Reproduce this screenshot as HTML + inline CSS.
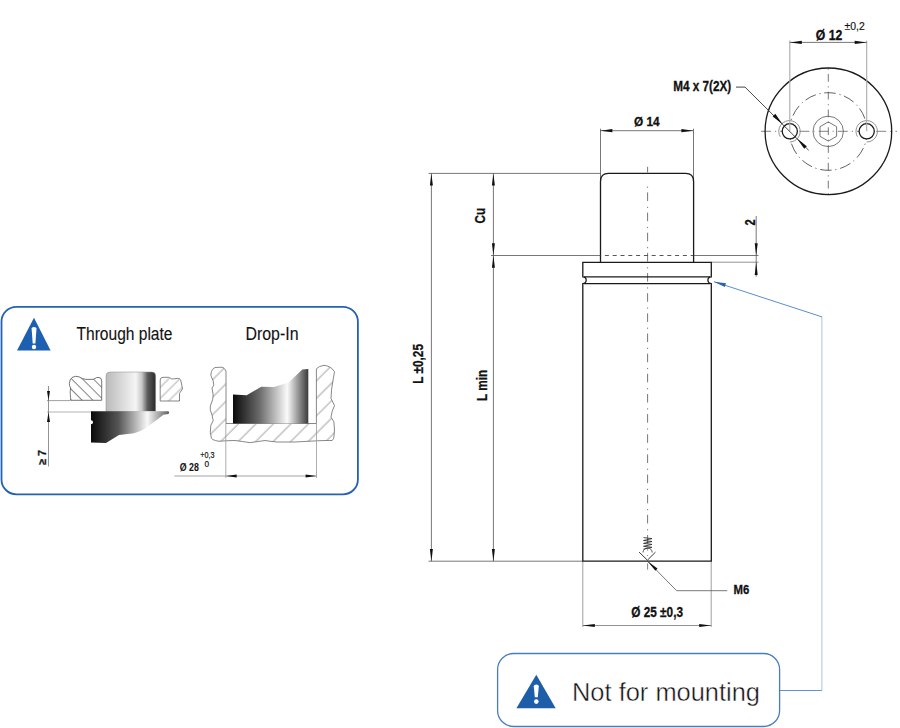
<!DOCTYPE html>
<html><head><meta charset="utf-8">
<style>
html,body{margin:0;padding:0;background:#fff;width:900px;height:728px;overflow:hidden}
svg{display:block}
text{font-family:"Liberation Sans",sans-serif}
.b{font-weight:bold}
</style></head><body>
<svg width="900" height="728" viewBox="0 0 900 728">
<defs>
<linearGradient id="gCyl" x1="0" x2="1" y1="0" y2="0">
<stop offset="0" stop-color="#bababa"/><stop offset="0.6" stop-color="#f5f5f5"/><stop offset="0.72" stop-color="#c8c8c8"/><stop offset="0.84" stop-color="#5a5a5a"/><stop offset="1" stop-color="#2a2a2a"/>
</linearGradient>
<linearGradient id="gFl" x1="0" x2="1" y1="0" y2="0">
<stop offset="0" stop-color="#0a0a0a"/><stop offset="0.35" stop-color="#555"/><stop offset="0.72" stop-color="#f8f8f8"/><stop offset="1" stop-color="#5c5c5c"/>
</linearGradient>
<linearGradient id="gDrop" x1="0" x2="1" y1="0" y2="0">
<stop offset="0" stop-color="#0a0a0a"/><stop offset="0.35" stop-color="#6a6a6a"/><stop offset="0.72" stop-color="#fafafa"/><stop offset="1" stop-color="#3a3a3a"/>
</linearGradient>
<pattern id="hatchL" patternUnits="userSpaceOnUse" width="7.64" height="20" patternTransform="rotate(-45)">
<line x1="4.24" y1="0" x2="4.24" y2="20" stroke="#555" stroke-width="0.75"/>
</pattern>
<pattern id="hatchR" patternUnits="userSpaceOnUse" width="7.8" height="20" patternTransform="rotate(45)">
<line x1="4.97" y1="0" x2="4.97" y2="20" stroke="#888" stroke-width="0.65"/>
</pattern>
<pattern id="hatchD" patternUnits="userSpaceOnUse" width="12.37" height="20" patternTransform="rotate(45)">
<line x1="10.6" y1="0" x2="10.6" y2="20" stroke="#777" stroke-width="0.7"/>
</pattern>
</defs>

<!-- ================= LEFT INFO BOX ================= -->
<rect x="1.5" y="306.8" width="356.4" height="187.6" rx="15" ry="15" fill="#fff" stroke="#2462b4" stroke-width="1.8"/>
<!-- warning triangle -->
<path d="M34 317.7 L50.6 350.4 L17 350.4 Z" fill="#1d5fb0"/>
<path d="M31.6 328.6 Q31.6 327.1 34 327.1 Q36.5 327.1 36.5 328.6 L35.4 343.5 L32.7 343.5 Z" fill="#fff"/>
<circle cx="34" cy="347" r="2.2" fill="#fff"/>
<text x="76.5" y="340.4" font-size="17.5" fill="#111" stroke="#111" stroke-width="0.12" textLength="96" lengthAdjust="spacingAndGlyphs">Through plate</text>
<text x="245.5" y="340.4" font-size="17.5" fill="#111" stroke="#111" stroke-width="0.12" textLength="53" lengthAdjust="spacingAndGlyphs">Drop-In</text>

<!-- through plate: left plate piece -->
<path d="M70.6 400.3 L101.7 400.3 L101.7 381 Q101.7 377.7 99 377.5 Q96.4 377 95 378.5 Q93.5 379.6 91 379.4 L86 379.4 Q82 379 79 376.8 Q75 375.5 72 377.5 Q69.5 379.5 69.3 383.6 Q69.3 386 70.6 388 Q70 392 70.3 394.7 Q70.8 398 70.6 400.3 Z" fill="url(#hatchL)" stroke="#555" stroke-width="0.8"/>
<!-- right plate piece -->
<path d="M160.2 401 L179.5 401 L179.5 393.3 L182.5 388.9 L182 386.1 L180.6 379.8 Q180 378.3 177.3 378.4 L173.5 378.9 Q171.8 379.3 170.5 378.3 Q169.5 377.3 168.5 377.3 L163 377.3 Q160.2 377.5 160.2 380 Z" fill="url(#hatchR)" stroke="#666" stroke-width="0.8"/>
<!-- cylinder -->
<path d="M106 411.5 L106 376 Q106 372 110 372 L152 372 Q155.6 372 155.6 376 L155.6 411.5 Z" fill="url(#gCyl)" stroke="#888" stroke-width="0.5"/>
<!-- flange -->
<path d="M91 411.3 L168.5 411.3 Q170 412.6 168.5 414 L163.5 414.8 L146 428 Q140 432 134 433.3 L119 435 L106 443 L91 442.5 Z" fill="url(#gFl)"/>
<circle cx="91" cy="422.2" r="2" fill="#fff"/>
<!-- dims -->
<line x1="47" y1="400.6" x2="70" y2="400.6" stroke="#888" stroke-width="0.8"/>
<line x1="47" y1="412" x2="91" y2="412" stroke="#aaa" stroke-width="0.9"/>
<line x1="48.5" y1="386" x2="48.5" y2="466.5" stroke="#777" stroke-width="0.8"/>
<path d="M47 391 L50 391 L48.5 400.6 Z" fill="#111"/>
<path d="M47 421.9 L50 421.9 L48.5 412 Z" fill="#111"/>
<text class="b" stroke="#111" stroke-width="0.3" transform="translate(45.8,465) rotate(-90)" font-size="11" fill="#111" textLength="15" lengthAdjust="spacingAndGlyphs">≥ 7</text>

<!-- drop-in U -->
<path d="M215.5 440.5 Q218 441.4 220 441.2 Q228 440.5 235 440.5 Q243 441.5 250 442.7 Q258 441.5 265 440.5 Q271 441.5 277 442 L295 442 Q303 441.5 310 441.2 Q318 440.7 325 440.5 Q331 440.5 332.2 440.5 Q334 438.5 333.9 437 L334.5 430 L333.9 421.8 L331 417.2 L332.2 411.3 L334.5 405.5 L331 398.5 L331.6 389.2 L333.3 378.7 L334.5 371.7 Q331 366 324 365.3 Q319 366 316.4 368.8 L316.4 423.5 L226 423.5 L226 371 Q224 367.3 222 367.2 L215 367.5 Q212 369 211.4 371.7 L210.8 375.2 L213.2 381 L213.8 385.1 L212 388 L213.2 395 L212.6 399.7 L210.3 406.1 L210.3 410.2 L212 414.8 L213.2 420.7 L210.8 425.3 L210.3 432.3 L211.4 438.2 Q212.5 440 215.5 440.5 Z" fill="url(#hatchD)" stroke="#6a6a6a" stroke-width="0.8" stroke-linejoin="round"/>
<path d="M233 423.5 L233 394.5 L246.7 395.3 L261.2 386.7 L274 387 L288.6 382.4 L302.3 369.5 L308.3 369 L308.3 423.5 Z" fill="url(#gDrop)"/>
<line x1="225.8" y1="423.5" x2="225.8" y2="478" stroke="#999" stroke-width="0.8"/>
<line x1="316.5" y1="423.5" x2="316.5" y2="478" stroke="#999" stroke-width="0.8"/>
<line x1="174.4" y1="476" x2="316.5" y2="476" stroke="#999" stroke-width="0.9"/>
<path d="M225.8 476 L236.7 474.4 L236.7 477.6 Z" fill="#111"/>
<path d="M316.5 476 L305.6 474.4 L305.6 477.6 Z" fill="#111"/>
<text class="b" x="179.8" y="470.7" font-size="10.5" fill="#111" textLength="19.1" lengthAdjust="spacingAndGlyphs">Ø 28</text>
<text x="200.2" y="457.8" font-size="8.5" fill="#111" stroke="#111" stroke-width="0.2" textLength="14.2" lengthAdjust="spacingAndGlyphs">+0,3</text>
<text x="204.5" y="466.7" font-size="9" fill="#111" stroke="#111" stroke-width="0.2" textLength="4.6" lengthAdjust="spacingAndGlyphs">0</text>

<!-- ================= MAIN DRAWING ================= -->
<!-- centerline -->
<line x1="647.6" y1="166.8" x2="647.6" y2="172.4" stroke="#666" stroke-width="0.9"/>
<line x1="647.6" y1="186.6" x2="647.6" y2="556" stroke="#666" stroke-width="0.9" stroke-dasharray="1.2 4.65 8.6 5.7"/>
<line x1="647.6" y1="563.4" x2="647.6" y2="569.6" stroke="#777" stroke-width="0.9"/>
<!-- extension lines -->
<line x1="428.5" y1="173.4" x2="600.5" y2="173.4" stroke="#555" stroke-width="0.8"/>
<line x1="491" y1="255.5" x2="600.5" y2="255.5" stroke="#555" stroke-width="0.8"/>
<line x1="693.6" y1="255.5" x2="758.5" y2="255.5" stroke="#555" stroke-width="0.8"/>
<line x1="711.5" y1="262.2" x2="758.5" y2="262.2" stroke="#777" stroke-width="0.8"/>
<line x1="428.5" y1="561.2" x2="582.8" y2="561.2" stroke="#555" stroke-width="0.8"/>
<line x1="600.5" y1="128.7" x2="600.5" y2="182" stroke="#555" stroke-width="0.8"/>
<line x1="693.5" y1="128.7" x2="693.5" y2="182" stroke="#555" stroke-width="0.8"/>
<line x1="582.8" y1="561.2" x2="582.8" y2="627" stroke="#888" stroke-width="0.8"/>
<line x1="711.2" y1="561.2" x2="711.2" y2="627" stroke="#888" stroke-width="0.8"/>
<!-- dim lines -->
<line x1="431.4" y1="173.4" x2="431.4" y2="561.2" stroke="#555" stroke-width="0.8"/>
<path d="M431.4 173.4 L429.9 185.5 L432.9 185.5 Z" fill="#111"/>
<path d="M431.4 561.2 L429.9 549 L432.9 549 Z" fill="#111"/>
<line x1="493.4" y1="173.4" x2="493.4" y2="561.2" stroke="#555" stroke-width="0.8"/>
<path d="M493.4 173.4 L491.9 185.5 L494.9 185.5 Z" fill="#111"/>
<path d="M493.4 255.5 L491.9 243.3 L494.9 243.3 Z" fill="#111"/>
<path d="M493.4 255.5 L491.9 267.7 L494.9 267.7 Z" fill="#111"/>
<path d="M493.4 561.2 L491.9 549 L494.9 549 Z" fill="#111"/>
<line x1="600.4" y1="130.7" x2="693.4" y2="130.7" stroke="#555" stroke-width="0.8"/>
<path d="M600.4 130.7 L612.4 129.1 L612.4 132.3 Z" fill="#111"/>
<path d="M693.4 130.7 L681.4 129.1 L681.4 132.3 Z" fill="#111"/>
<line x1="756.2" y1="216" x2="756.2" y2="276.7" stroke="#555" stroke-width="0.8"/>
<path d="M756.2 255.6 L754.7 243.3 L757.7 243.3 Z" fill="#111"/>
<path d="M756.2 262 L754.7 274.9 L757.7 274.9 Z" fill="#111"/>
<line x1="582.8" y1="625.5" x2="711.2" y2="625.5" stroke="#777" stroke-width="0.8"/>
<path d="M582.8 625.5 L594.8 623.9 L594.8 627.1 Z" fill="#111"/>
<path d="M711.2 625.5 L699.2 623.9 L699.2 627.1 Z" fill="#111"/>

<!-- part outline -->
<path d="M600.5 262.4 L600.5 181.5 Q600.5 173.4 608.5 173.4 L685.6 173.4 Q693.6 173.4 693.6 181.5 L693.6 262.4" fill="none" stroke="#1a1a1a" stroke-width="1.3"/>
<line x1="600.5" y1="255.5" x2="693.6" y2="255.5" stroke="#444" stroke-width="0.9" stroke-dasharray="4 3.8" stroke-dashoffset="3.4"/>
<path d="M582.8 262.4 L711.3 262.4 L711.3 276.8 A3.4 3.4 0 0 0 711.3 283.6 L711.3 561.2 L582.8 561.2 L582.8 283.6 A3.4 3.4 0 0 0 582.8 276.8 Z" fill="none" stroke="#1a1a1a" stroke-width="1.3"/>
<line x1="584" y1="276.8" x2="710" y2="276.8" stroke="#1a1a1a" stroke-width="1.3"/>
<line x1="584" y1="283.6" x2="710" y2="283.6" stroke="#1a1a1a" stroke-width="1.3"/>
<!-- thread symbol M6 -->
<path d="M643.5 537.6 L652 538.6 L643.5 540.5 L652 541.5 L643.5 543.4 L652 544.4 L643.5 546.3 L652 547.3 L643.5 549.2" fill="none" stroke="#333" stroke-width="0.9"/>
<path d="M643 552.5 A4.6 4.6 0 0 1 652.2 552.5" fill="none" stroke="#333" stroke-width="0.8"/>
<path d="M639.1 552.1 L647.4 560.2 L655.5 552.1" fill="none" stroke="#222" stroke-width="0.9"/>
<path d="M647.6 561.2 L676.6 590.7 L727.3 590.7" fill="none" stroke="#555" stroke-width="0.8"/>
<path d="M647.6 561.2 L657.5 568.6 L655.4 570.8 Z" fill="#111"/>
<text class="b" stroke="#111" stroke-width="0.3" x="733.6" y="594" font-size="13.2" fill="#111" textLength="15.8" lengthAdjust="spacingAndGlyphs">M6</text>
<text class="b" stroke="#111" stroke-width="0.3" x="631.2" y="617.2" font-size="14.4" fill="#111" textLength="51.8" lengthAdjust="spacingAndGlyphs">Ø 25 ±0,3</text>
<text class="b" stroke="#111" stroke-width="0.3" x="634" y="125.7" font-size="13" fill="#111" textLength="25.6" lengthAdjust="spacingAndGlyphs">Ø 14</text>
<text class="b" stroke="#111" stroke-width="0.3" transform="translate(485.3,223.5) rotate(-90)" font-size="15" fill="#111" textLength="15.5" lengthAdjust="spacingAndGlyphs">Cu</text>
<text class="b" stroke="#111" stroke-width="0.3" transform="translate(422.6,383.8) rotate(-90)" font-size="15" fill="#111" textLength="39.8" lengthAdjust="spacingAndGlyphs">L ±0,25</text>
<text class="b" stroke="#111" stroke-width="0.3" transform="translate(487,400.9) rotate(-90)" font-size="15" fill="#111" textLength="31.2" lengthAdjust="spacingAndGlyphs">L min</text>
<text class="b" stroke="#111" stroke-width="0.3" transform="translate(755.4,225.4) rotate(-90)" font-size="15" fill="#111" textLength="6.2" lengthAdjust="spacingAndGlyphs">2</text>

<!-- ================= TOP VIEW ================= -->
<line x1="828.3" y1="64.3" x2="828.3" y2="197.2" stroke="#555" stroke-width="0.8" stroke-dasharray="7.8 4.6 1.2 4.2" stroke-dashoffset="8.2"/>
<line x1="761" y1="131.3" x2="897" y2="131.3" stroke="#666" stroke-width="0.8" stroke-dasharray="10 4 1.2 4"/>
<circle cx="828.4" cy="131.3" r="63.3" fill="none" stroke="#1a1a1a" stroke-width="1.3"/>
<circle cx="828.3" cy="131.5" r="38.8" fill="none" stroke="#444" stroke-width="0.85" stroke-dasharray="11.5 3.9 1.2 3.56" stroke-dashoffset="3"/>
<circle cx="828.2" cy="131.4" r="15.2" fill="none" stroke="#555" stroke-width="0.8"/>
<path d="M828.3 121.9 L836.6 126.7 L836.6 136.3 L828.3 141.1 L820 136.3 L820 126.7 Z" fill="none" stroke="#555" stroke-width="0.8"/>
<circle cx="789.8" cy="131.3" r="7.6" fill="#fff" stroke="#1a1a1a" stroke-width="1.3"/>
<circle cx="866.7" cy="131.3" r="7.6" fill="#fff" stroke="#1a1a1a" stroke-width="1.3"/>
<path d="M780.3 136.8 A10.7 10.7 0 1 1 789.8 142" fill="none" stroke="#777" stroke-width="0.8"/>
<path d="M857.43 136.65 A10.7 10.7 0 1 1 866.7 142" fill="none" stroke="#777" stroke-width="0.8"/>
<line x1="789.8" y1="40.5" x2="789.8" y2="131.3" stroke="#aaa" stroke-width="1.1"/>
<line x1="866.7" y1="40.5" x2="866.7" y2="131.3" stroke="#aaa" stroke-width="1.1"/>
<line x1="789.8" y1="42.4" x2="866.7" y2="42.4" stroke="#555" stroke-width="0.8"/>
<path d="M789.8 42.4 L801.8 40.8 L801.8 44 Z" fill="#111"/>
<path d="M866.7 42.4 L854.7 40.8 L854.7 44 Z" fill="#111"/>
<text class="b" stroke="#111" stroke-width="0.3" x="815.8" y="40" font-size="14" fill="#111" textLength="26.5" lengthAdjust="spacingAndGlyphs">Ø 12</text>
<text x="844.6" y="30.3" font-size="10" fill="#111" stroke="#111" stroke-width="0.15" textLength="20.2" lengthAdjust="spacingAndGlyphs">±0,2</text>
<text class="b" stroke="#111" stroke-width="0.3" x="673.2" y="90.8" font-size="14.2" fill="#111" textLength="58" lengthAdjust="spacingAndGlyphs">M4 x 7(2X)</text>
<path d="M736 87.1 L745 87.1 L808.7 150.3" fill="none" stroke="#333" stroke-width="0.9"/>
<path d="M782.6 124.2 L772.7 116.4 L775.3 113.8 Z" fill="#111"/>
<path d="M797 138.4 L806.8 146.2 L804.2 148.8 Z" fill="#111"/>

<!-- ================= NOT FOR MOUNTING ================= -->
<line x1="780" y1="690.5" x2="822" y2="690.5" stroke="#5f92d2" stroke-width="1"/>
<line x1="821.9" y1="690.5" x2="821.9" y2="316.7" stroke="#a9c5e8" stroke-width="1"/>
<line x1="822" y1="316.9" x2="714" y2="281.7" stroke="#5a8ed0" stroke-width="1"/>
<path d="M714 281.7 L726 283.3 L724.8 287 Z" fill="#2a63b0"/>
<rect x="497.6" y="653.5" width="282" height="73" rx="16" ry="16" fill="#fff" stroke="#4a7cc0" stroke-width="1.3"/>
<path d="M536.3 674.8 L555.7 708.3 L516.4 708.3 Z" fill="#1e5ea8"/>
<path d="M533.8 686.3 Q533.8 684.6 536.3 684.6 Q538.8 684.6 538.8 686.3 L537.8 697.3 L534.8 697.3 Z" fill="#fff"/>
<circle cx="536.3" cy="701.6" r="2.3" fill="#fff"/>
<text x="572" y="701" font-size="26" fill="#111" stroke="#fff" stroke-width="0.45" textLength="188" lengthAdjust="spacingAndGlyphs">Not for mounting</text>
</svg>
</body></html>
